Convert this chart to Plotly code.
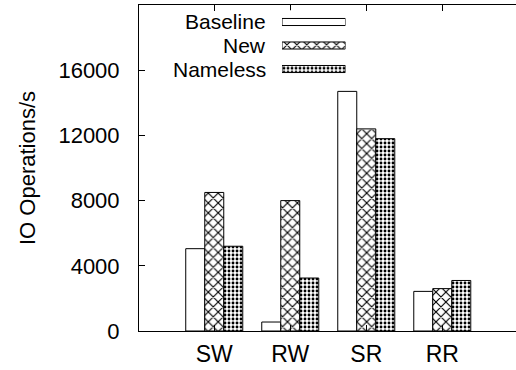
import plotly.graph_objects as go

categories = ["SW", "RW", "SR", "RR"]
series_names = ["Baseline", "New", "Nameless"]
baseline = [5050, 550, 14700, 2430]
new = [8500, 8000, 12400, 2600]
nameless = [5200, 3250, 11800, 3100]
y_ticks = [0, 4000, 8000, 12000, 16000]

values = [baseline, new, nameless]
patterns = [
    dict(shape="", fillmode="replace"),
    dict(shape="x", size=7, solidity=0.3, fgcolor="black", bgcolor="white", fillmode="replace"),
    dict(shape=".", size=4, solidity=0.4, fgcolor="black", bgcolor="white", fillmode="replace"),
]

FONT = "Liberation Sans, Arial, Helvetica, sans-serif"
x_idx = list(range(len(categories)))

fig = go.Figure()
for name, vals, pat in zip(series_names, values, patterns):
    fig.add_trace(go.Bar(
        x=x_idx, y=vals, name=name, showlegend=False,
        marker=dict(color="white", line=dict(color="black", width=1), pattern=pat),
        xaxis="x", yaxis="y",
    ))

# legend samples (gnuplot-style: label then sample box to the right)
for i, (name, pat) in enumerate(zip(series_names, patterns)):
    fig.add_trace(go.Bar(
        x=[1], y=[i], orientation="h", width=0.3, showlegend=False,
        marker=dict(color="white", line=dict(color="black", width=1), pattern=pat),
        xaxis="x2", yaxis="y2", hoverinfo="skip",
    ))
    fig.add_annotation(
        x=0.3395, xref="paper", y=i, yref="y2", text=name, showarrow=False,
        xanchor="right", yanchor="middle", borderpad=0,
        font=dict(family=FONT, size=21, color="black"),
    )

fig.update_layout(
    width=516, height=370,
    margin=dict(l=139, r=0, t=5, b=39, autoexpand=False),
    paper_bgcolor="white", plot_bgcolor="white",
    barmode="group", bargap=0.25, bargroupgap=0,
    font=dict(family=FONT, size=22, color="black"),
    xaxis=dict(
        range=[-0.99, 3.97], tickvals=x_idx, ticktext=categories, automargin=False,
        showline=True, linecolor="black", linewidth=1, mirror="ticks",
        ticks="inside", ticklen=6, tickcolor="black", showgrid=False, zeroline=False,
        tickfont=dict(size=23), ticklabelstandoff=2,
    ),
    yaxis=dict(
        range=[0, 20000], tickvals=y_ticks, ticktext=[str(v) for v in y_ticks], automargin=False,
        showline=True, linecolor="black", linewidth=1, mirror=False,
        ticks="inside", ticklen=6, tickcolor="black", showgrid=False, zeroline=False,
        tickfont=dict(size=22), ticklabelstandoff=14,
        title=dict(text="IO Operations/s", font=dict(size=22), standoff=16),
    ),
    xaxis2=dict(domain=[0.3793, 0.5477], range=[0, 1], visible=False, anchor="y2"),
    yaxis2=dict(domain=[0.7676, 0.9839], range=[2.5, -0.5], visible=False, anchor="x2"),
)

fig.write_html("out.html", config={"displayModeBar": False},
               post_script="document.body.style.margin='0';")
